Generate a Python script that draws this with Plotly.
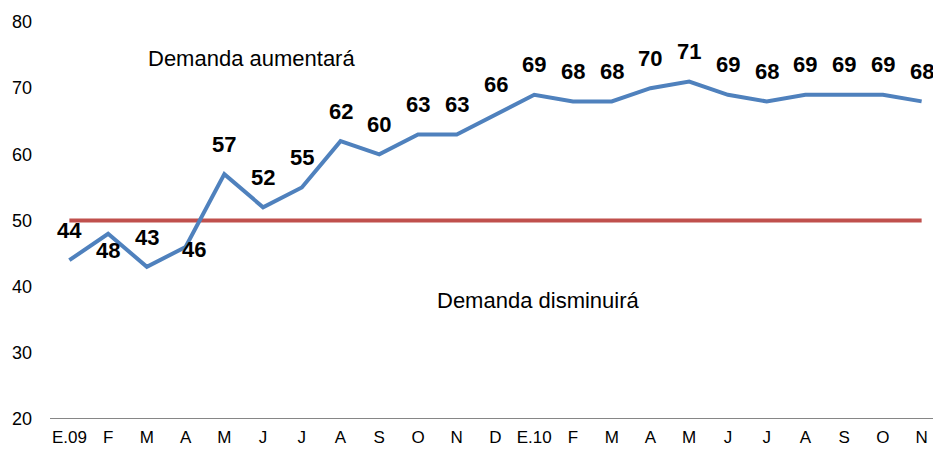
import plotly.graph_objects as go

categories = ["E.09", "F", "M", "A", "M", "J", "J", "A", "S", "O", "N", "D",
              "E.10", "F", "M", "A", "M", "J", "J", "A", "S", "O", "N"]
values = [44, 48, 43, 46, 57, 52, 55, 62, 60, 63, 63, 66,
          69, 68, 68, 70, 71, 69, 68, 69, 69, 69, 68]
threshold = 50
# label offsets (px) relative to each point: above by default, below for some
label_yshift = [30, -17, 29, -3, 30, 30, 30, 30, 30, 30, 30, 30,
                30, 30, 30, 30, 30, 30, 30, 30, 30, 30, 30]
label_xshift = [0, 0, 0, 8, 0, 0, 0, 0, 0, 0, 0, 0,
                0, 0, 0, 0, 0, 0, 0, 0, 0, 0, 0]

x = list(range(len(categories)))
FONT = "Liberation Sans"

fig = go.Figure()
fig.add_trace(go.Scatter(x=[0, len(categories) - 1], y=[threshold, threshold],
                         mode="lines", line=dict(color="#C0504D", width=4),
                         hoverinfo="skip", showlegend=False))
fig.add_trace(go.Scatter(x=x, y=values, mode="lines",
                         line=dict(color="#4F81BD", width=4), showlegend=False))

for xi, v, ys, xs in zip(x, values, label_yshift, label_xshift):
    fig.add_annotation(x=xi, y=v, text=f"<b>{v}</b>", showarrow=False,
                       yshift=ys, xshift=xs,
                       font=dict(size=22, color="black", family=FONT))

fig.add_annotation(x=4.69, y=74.5, text="Demanda aumentará", showarrow=False,
                   font=dict(size=22, color="black", family=FONT))
fig.add_annotation(x=12.12, y=37.9, text="Demanda disminuirá", showarrow=False,
                   font=dict(size=22, color="black", family=FONT))

# page has an 8px body margin, so the figure is sized/offset to compensate
fig.update_layout(
    width=933, height=453,
    margin=dict(l=42, r=0, t=14, b=42),
    plot_bgcolor="white", paper_bgcolor="white",
    font=dict(family=FONT, size=18, color="black"),
    xaxis=dict(tickmode="array", tickvals=x, ticktext=categories,
               range=[-0.5, len(categories) - 0.5], showgrid=False,
               zeroline=False, showline=False, ticks="", automargin=False,
               tickfont=dict(size=17), ticklabelstandoff=6),
    yaxis=dict(range=[20, 80], dtick=10, showgrid=False, zeroline=False,
               showline=False, ticks="", ticklabelstandoff=17, automargin=False,
               tickfont=dict(size=18)),
    shapes=[dict(type="line", xref="paper", yref="y", x0=0, x1=1, y0=20, y1=20,
                 line=dict(color="#868686", width=2))],
)

fig.write_html("out.html")
